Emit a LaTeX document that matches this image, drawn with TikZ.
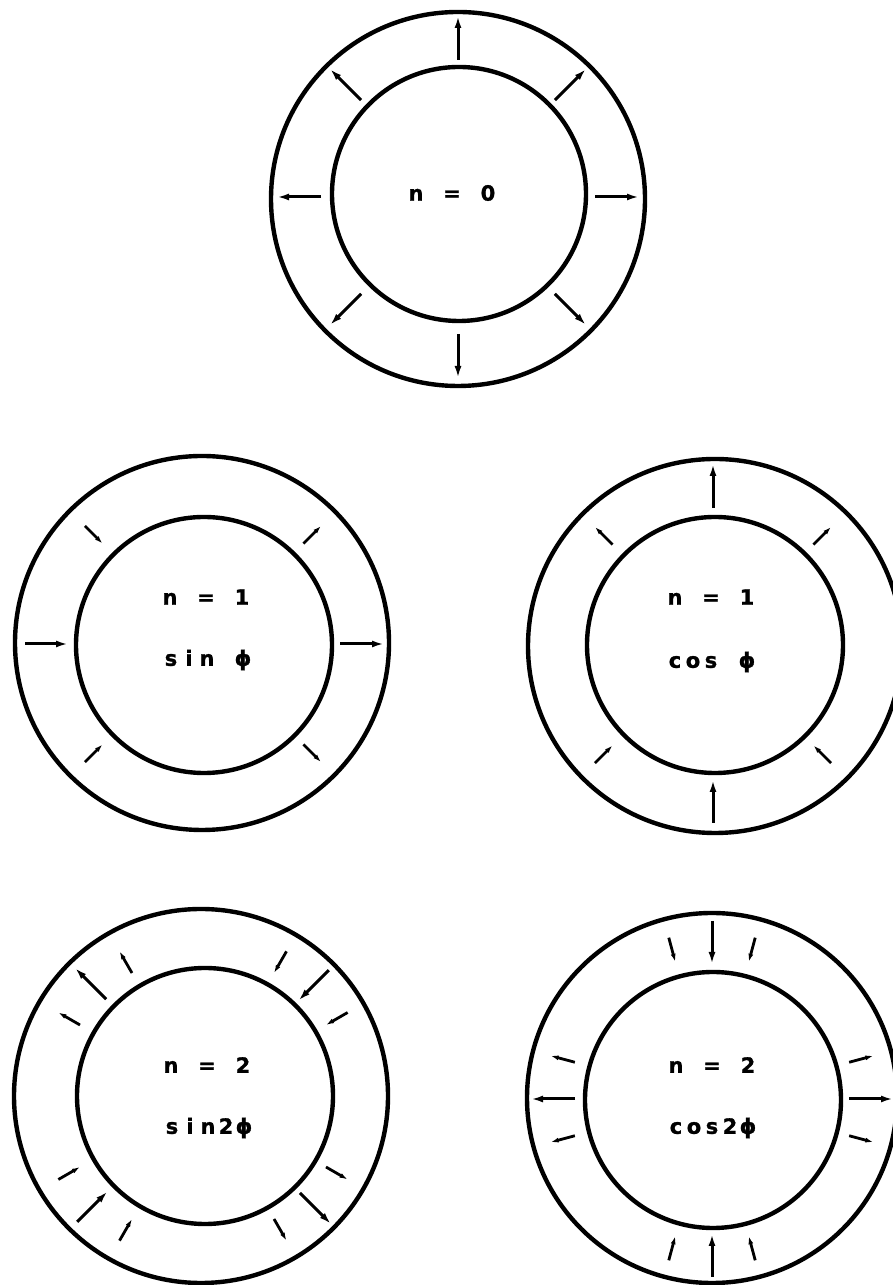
\documentclass[tikz,border=0pt]{standalone}
\usepackage{fontspec}
\setmainfont{DejaVu Sans}[BoldFeatures={FakeBold=1.2}]
\usetikzlibrary{arrows.meta,calc}
\newcommand{\cc}[1]{\makebox[18pt][c]{#1}}
\newcommand{\outA}[2]{\draw[fullarrow] ($(#1)+(#2:137)$) -- ($(#1)+(#2:181)$);}
\newcommand{\inA}[2]{\draw[fullarrow] ($(#1)+(#2:178)$) -- ($(#1)+(#2:135)$);}
\newcommand{\outT}[2]{\draw[tickarrow] ($(#1)+(#2:142)$) -- ($(#1)+(#2:167)$);}
\newcommand{\inT}[2]{\draw[tickarrow] ($(#1)+(#2:167)$) -- ($(#1)+(#2:142)$);}
\begin{document}
\begin{tikzpicture}[x=1pt,y=1pt,
  ring/.style={line width=4.4pt},
  fullarrow/.style={line width=3pt,-{Latex[length=12pt,width=7pt]}},
  tickarrow/.style={line width=2.8pt,-{Latex[length=8pt,width=5pt]}},
  lbl/.style={font=\fontsize{21pt}{25pt}\selectfont\bfseries,inner sep=0pt,anchor=center}]
\useasboundingbox (0,0) rectangle (893,1285);
\fill[white] (0,0) rectangle (893,1285);
% ---------- ring 1 : n = 0
\coordinate (c1) at (458,1088);
\draw[ring] (458,1086) circle[radius=187];
\draw[ring] (459,1091) circle[radius=127];
\node[lbl] (t1) at (452,1092) {\cc{n}\cc{}\cc{=}\cc{}\cc{0}};
\foreach \a in {0,45,...,315} {\outA{c1}{\a}}
% ---------- ring 2 : n = 1 sin
\coordinate (c2) at (203,641);
\draw[ring] (202,642) circle[radius=187];
\draw[ring] (204,640) circle[radius=128];
\node[lbl] (t2a) at (206,688) {\cc{n}\cc{}\cc{=}\cc{}\cc{1}};
\node[lbl] (t2b) at (207,625) {\cc{s}\cc{i}\cc{n}\cc{}\cc{ϕ}};
\outA{c2}{0} \inA{c2}{180}
\outT{c2}{45} \inT{c2}{135} \inT{c2}{225} \outT{c2}{315}
% ---------- ring 3 : n = 1 cos
\coordinate (c3) at (713,640);
\draw[ring] (715,639) circle[radius=187];
\draw[ring] (715,640) circle[radius=128];
\node[lbl] (t3a) at (711,688) {\cc{n}\cc{}\cc{=}\cc{}\cc{1}};
\node[lbl] (t3b) at (711,623) {\cc{c}\cc{o}\cc{s}\cc{}\cc{ϕ}};
\outA{c3}{90} \inA{c3}{270}
\outT{c3}{45} \outT{c3}{135} \inT{c3}{225} \inT{c3}{315}
% ---------- ring 4 : n = 2 sin2
\coordinate (c4) at (203,189);
\draw[ring] (201,189) circle[radius=187];
\draw[ring] (205,189) circle[radius=128];
\node[lbl] (t4a) at (207,220) {\cc{n}\cc{}\cc{=}\cc{}\cc{2}};
\node[lbl] (t4b) at (208,157) {\cc{s}\cc{i}\cc{n}\cc{2}\cc{ϕ}};
\inA{c4}{45} \outA{c4}{135} \inA{c4}{225} \outA{c4}{315}
\inT{c4}{30} \inT{c4}{60} \outT{c4}{120} \outT{c4}{150}
\inT{c4}{210} \inT{c4}{240} \outT{c4}{300} \outT{c4}{330}
% ---------- ring 5 : n = 2 cos2
\coordinate (c5) at (712,186);
\draw[ring] (712,187) circle[radius=185];
\draw[ring] (713,185) circle[radius=128];
\node[lbl] (t5a) at (712,220) {\cc{n}\cc{}\cc{=}\cc{}\cc{2}};
\node[lbl] (t5b) at (712,157) {\cc{c}\cc{o}\cc{s}\cc{2}\cc{ϕ}};
\outA{c5}{0} \outA{c5}{180} \inA{c5}{90} \inA{c5}{270}
\outT{c5}{15} \outT{c5}{345} \outT{c5}{165} \outT{c5}{195}
\inT{c5}{75} \inT{c5}{105} \inT{c5}{255} \inT{c5}{285}
\end{tikzpicture}
\end{document}
